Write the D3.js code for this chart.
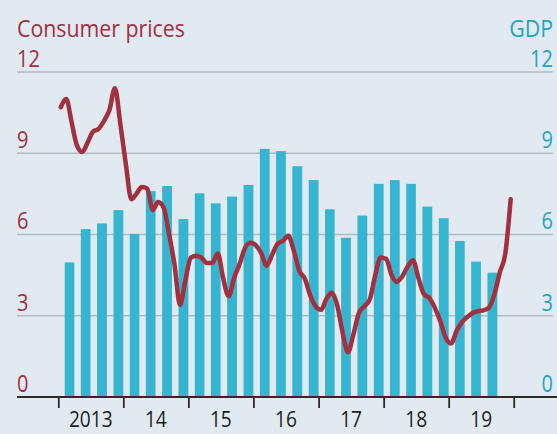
<!DOCTYPE html>
<html>
<head>
<meta http-equiv="Content-Type" content="text/html; charset=UTF-8">
<title>Consumer prices and GDP</title>
<script src="https://cdn.jsdelivr.net/npm/d3@7"></script>
<style>
body { margin: 0; background: #e1eaf1; }
text { font-family: "Open Sans", "Noto Sans", sans-serif; }
</style>
</head>
<body>
<svg class="chart" width="557" height="434"></svg>

<script>
// GDP, quarterly, 2013 Q1 - 2019 Q3
var gdpQuarters = ["2013Q1","2013Q2","2013Q3","2013Q4","2014Q1","2014Q2","2014Q3","2014Q4",
  "2015Q1","2015Q2","2015Q3","2015Q4","2016Q1","2016Q2","2016Q3","2016Q4",
  "2017Q1","2017Q2","2017Q3","2017Q4","2018Q1","2018Q2","2018Q3","2018Q4",
  "2019Q1","2019Q2","2019Q3"];
var gdpValues = [4.97, 6.2, 6.41, 6.9, 6.02, 7.6, 7.79, 6.57,
  7.52, 7.15, 7.4, 7.83, 9.16, 9.08, 8.52, 8.01,
  6.93, 5.88, 6.7, 7.87, 8.01, 7.87, 7.03, 6.6,
  5.76, 5.0, 4.59];

// consumer prices, monthly, Jan 2013 - Dec 2019
var cpiStart = [2013, 0];
var cpiValues = [
  10.7, 11.0, 10.2, 9.3, 9.05, 9.4, 9.8, 9.9, 10.2, 10.6, 11.4, 10.1,
  8.6, 7.3, 7.5, 7.75, 7.7, 6.9, 7.2, 7.0, 6.0, 4.9, 3.4, 4.3,
  5.15, 5.22, 5.15, 4.95, 4.95, 5.3, 4.4, 3.72, 4.4, 4.9, 5.5, 5.7,
  5.6, 5.3, 4.85, 5.25, 5.65, 5.77, 5.95, 5.4, 4.65, 4.38, 3.75, 3.35,
  3.22, 3.64, 3.85, 3.4, 2.4, 1.65, 2.3, 3.1, 3.35, 3.6, 4.5, 5.15,
  5.1, 4.5, 4.25, 4.45, 4.8, 5.05, 4.4, 3.8, 3.65, 3.3, 2.8, 2.2,
  1.98, 2.45, 2.75, 2.95, 3.1, 3.17, 3.2, 3.3, 3.8, 4.6, 5.3, 7.3];

var years = [2013, 2014, 2015, 2016, 2017, 2018, 2019, 2020];
var yearLabels = ["2013", "14", "15", "16", "17", "18", "19"];
var yTicks = [0, 3, 6, 9, 12];

var red = "#a3303f";
var blue = "#1ea5c6";
var barColour = "#36b5d0";

var svg = d3.select(".chart");
svg.append("rect").attr("width", 557).attr("height", 434).attr("fill", "#e1eaf1");

var x = d3.scaleTime()
  .domain([new Date(2013, 0, 1), new Date(2020, 0, 1)])
  .range([58.3, 513.7]);
var y = d3.scaleLinear()
  .domain([0, 12])
  .range([397, 72]);

//gridlines
svg.append("g")
  .selectAll("line")
  .data(yTicks.filter(function(d){ return d > 0; }))
  .enter().append("line")
  .attr("x1", 17).attr("x2", 553)
  .attr("y1", function(d){ return y(d); })
  .attr("y2", function(d){ return y(d); })
  .attr("stroke", "#b1bac1")
  .attr("stroke-width", 1.3);

//bars, right aligned to the end of each quarter
var quarterStart = function(q){ return new Date(+q.slice(0, 4), (+q.slice(5) - 1) * 3, 1); };
var quarterEnd = function(q){ return new Date(+q.slice(0, 4), (+q.slice(5)) * 3, 1); };

svg.append("g")
  .selectAll("rect")
  .data(gdpQuarters)
  .enter().append("rect")
  .attr("x", function(q){ var w = x(quarterEnd(q)) - x(quarterStart(q)); return x(quarterEnd(q)) - w * 0.6; })
  .attr("width", function(q){ return (x(quarterEnd(q)) - x(quarterStart(q))) * 0.6; })
  .attr("y", function(q, i){ return y(gdpValues[i]); })
  .attr("height", function(q, i){ return y(0) - y(gdpValues[i]); })
  .attr("fill", barColour);

//consumer price line, mid-month points
var line = d3.line()
  .x(function(d, i){ return x(new Date(cpiStart[0], cpiStart[1] + i, 15)); })
  .y(function(d){ return y(d); })
  .curve(d3.curveMonotoneX);

svg.append("path")
  .datum(cpiValues)
  .attr("d", line)
  .attr("fill", "none")
  .attr("stroke", red)
  .attr("stroke-width", 4.5)
  .attr("stroke-linejoin", "round")
  .attr("stroke-linecap", "round");

//baseline and year ticks
svg.append("line")
  .attr("x1", 17).attr("x2", 557)
  .attr("y1", y(0)).attr("y2", y(0))
  .attr("stroke", "#2b2b2b")
  .attr("stroke-width", 1.8);

var xAxis = d3.axisBottom(x)
  .tickValues(years.map(function(yr){ return new Date(yr, 0, 1); }))
  .tickSize(11)
  .tickFormat("");

var axisG = svg.append("g")
  .attr("transform", "translate(0," + y(0) + ")")
  .call(xAxis);
axisG.select(".domain").remove();
axisG.selectAll(".tick line").attr("stroke", "#2b2b2b").attr("stroke-width", 1.8);

svg.append("g")
  .selectAll("text")
  .data(yearLabels)
  .enter().append("text")
  .attr("class", "lbl")
  .attr("x", function(d, i){ return (x(new Date(years[i], 0, 1)) + x(new Date(years[i + 1], 0, 1))) / 2; })
  .attr("y", 427)
  .attr("text-anchor", "middle")
  .attr("font-size", 22)
  .attr("fill", "#1d1d1d")
  .text(function(d){ return d; });

//y labels, both sides
svg.append("g")
  .selectAll("text")
  .data(yTicks)
  .enter().append("text")
  .attr("class", "lbl")
  .attr("x", 17)
  .attr("y", function(d){ return y(d) - 5; })
  .attr("font-size", 23)
  .attr("fill", red)
  .text(function(d){ return d; });

svg.append("g")
  .selectAll("text")
  .data(yTicks)
  .enter().append("text")
  .attr("class", "lbl")
  .attr("x", 553)
  .attr("y", function(d){ return y(d) - 5; })
  .attr("text-anchor", "end")
  .attr("font-size", 23)
  .attr("fill", blue)
  .text(function(d){ return d; });

//titles
svg.append("text")
  .attr("class", "lbl")
  .attr("x", 17).attr("y", 37)
  .attr("font-size", 24.5)
  .attr("fill", red)
  .text("Consumer prices");

svg.append("text")
  .attr("class", "lbl")
  .attr("x", 553).attr("y", 37)
  .attr("text-anchor", "end")
  .attr("font-size", 24.5)
  .attr("fill", blue)
  .text("GDP");

// the original face is narrower than Open Sans, so squeeze each text about its anchor
svg.selectAll(".lbl").attr("transform", function(){
  var ax = +d3.select(this).attr("x");
  return "translate(" + ax + ",0) scale(0.87,1) translate(" + (-ax) + ",0)";
});
</script>
</body>
</html>
